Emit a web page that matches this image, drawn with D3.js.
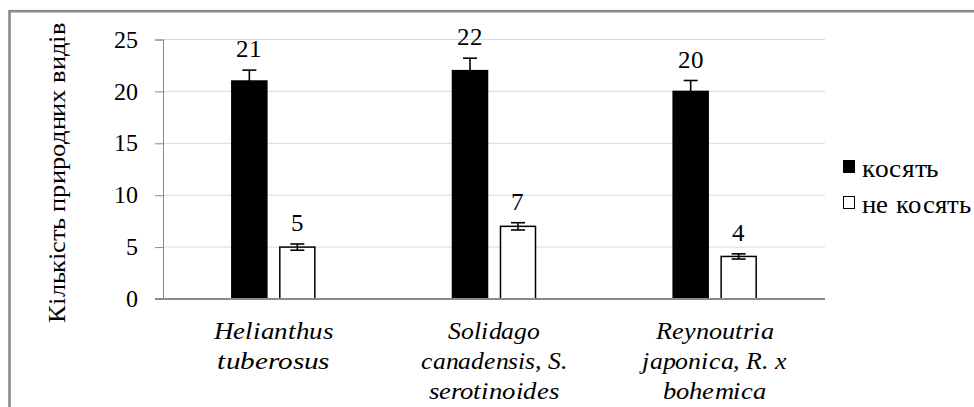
<!DOCTYPE html>
<html>
<head>
<meta charset="utf-8">
<script src="https://cdn.jsdelivr.net/npm/d3@7"></script>
<style>
  @font-face { font-family: 'ChartSerif'; font-style: normal; font-weight: 400;
    src: local('Liberation Serif'), local('LiberationSerif'), local('Tinos'), local('DejaVu Serif'), local('DejaVuSerif'); }
  @font-face { font-family: 'ChartSerif'; font-style: italic; font-weight: 400;
    src: local('Liberation Serif Italic'), local('LiberationSerif-Italic'), local('Tinos Italic'), local('DejaVu Serif Italic'), local('DejaVuSerif-Italic'); }
</style>
</head>
<body style="margin:0">
<script>
// data
const categories = [
    ['Helianthus', 'tuberosus'],
    ['Solidago', 'canadensis, S.', 'serotinoides'],
    ['Reynoutria', 'japonica, R. x', 'bohemica']
];
// widths of the category label lines in the picture (px)
const catLineWidths = [
    [119, 112],
    [92, 146, 130],
    [118, 145, 104]
];
const seriesNames = ['косять', 'не косять'];
const mowed = [21, 22, 20];
const notMowed = [5, 7, 4.1];
const mowedErr = [1.05, 1.2, 1.05];
const notMowedErr = [0.3, 0.35, 0.25];
const yTicks = [0, 5, 10, 15, 20, 25];
const yTitle = 'Кількість природних видів';

const FONT = 'ChartSerif, "Liberation Serif", "Times New Roman", Tinos, "DejaVu Serif", serif';

const W = 974, H = 407;
const margin = { top: 39.5, left: 163, right: 149, bottom: 108 };
const width = W - margin.left - margin.right;
const height = H - margin.top - margin.bottom;

const svg = d3.select('body')
    .append('svg')
    .attr('width', W)
    .attr('height', H)
    .style('font-family', FONT);

// outer frame
svg.append('rect')
    .attr('x', 9.5)
    .attr('y', 11.2)
    .attr('width', 1000)
    .attr('height', 500)
    .attr('fill', 'none')
    .attr('stroke', '#8a8a8a')
    .attr('stroke-width', 2.6);

const g = svg.append('g')
    .attr('transform', `translate(${margin.left},${margin.top})`);

const x0 = d3.scaleBand()
    .domain(d3.range(categories.length))
    .range([0, width]);

const x1 = d3.scaleBand()
    .domain(seriesNames)
    .range([x0.bandwidth() / 2 - 41.5, x0.bandwidth() / 2 + 41.5])
    .paddingInner(0.27);

const y = d3.scaleLinear()
    .domain([0, 25])
    .range([height, 0]);

// gridlines
g.append('g')
    .selectAll('line')
    .data(yTicks.slice(1))
    .enter().append('line')
    .attr('x1', 0)
    .attr('x2', width)
    .attr('y1', d => y(d))
    .attr('y2', d => y(d))
    .attr('stroke', '#d9d9d9')
    .attr('stroke-width', 1);

// y axis
const yAxis = g.append('g')
    .call(d3.axisLeft(y).tickValues(yTicks).tickSize(8).tickPadding(17));
yAxis.select('.domain').attr('stroke', '#8a8a8a');
yAxis.selectAll('.tick line').attr('stroke', '#8a8a8a');
yAxis.selectAll('.tick text')
    .style('font-family', FONT)
    .style('font-size', '24px')
    .attr('fill', '#000');

const rows = categories.map((c, i) => [
    { s: seriesNames[0], i, v: mowed[i], e: mowedErr[i] },
    { s: seriesNames[1], i, v: notMowed[i], e: notMowedErr[i] }
]);

const groups = g.selectAll('.cat')
    .data(rows)
    .enter().append('g')
    .attr('class', 'cat')
    .attr('transform', (d, i) => `translate(${x0(i)},0)`);

groups.selectAll('rect')
    .data(d => d)
    .enter().append('rect')
    .attr('x', d => x1(d.s))
    .attr('y', d => y(d.v))
    .attr('width', x1.bandwidth())
    .attr('height', d => height - y(d.v))
    .attr('fill', d => d.s === seriesNames[0] ? '#000' : '#fff')
    .attr('stroke', '#000')
    .attr('stroke-width', 1.5);

// error bars
const err = groups.selectAll('.err')
    .data(d => d)
    .enter().append('g')
    .attr('class', 'err')
    .attr('stroke', '#000')
    .attr('stroke-width', 1.6);
err.append('line')
    .attr('x1', d => x1(d.s) + x1.bandwidth() / 2)
    .attr('x2', d => x1(d.s) + x1.bandwidth() / 2)
    .attr('y1', d => y(d.v - d.e))
    .attr('y2', d => y(d.v + d.e));
err.append('line')
    .attr('x1', d => x1(d.s) + x1.bandwidth() / 2 - 7)
    .attr('x2', d => x1(d.s) + x1.bandwidth() / 2 + 7)
    .attr('y1', d => y(d.v + d.e))
    .attr('y2', d => y(d.v + d.e));
err.filter(d => d.s !== seriesNames[0]).append('line')
    .attr('x1', d => x1(d.s) + x1.bandwidth() / 2 - 7)
    .attr('x2', d => x1(d.s) + x1.bandwidth() / 2 + 7)
    .attr('y1', d => y(d.v - d.e))
    .attr('y2', d => y(d.v - d.e));

// value labels
groups.selectAll('.val')
    .data(d => d)
    .enter().append('text')
    .attr('class', 'val')
    .attr('x', d => x1(d.s) + x1.bandwidth() / 2)
    .attr('y', d => y(d.v + d.e) - 13)
    .attr('text-anchor', 'middle')
    .style('font-family', FONT)
    .style('font-size', '25px')
    .text(d => Math.round(d.v));

// baseline
g.append('line')
    .attr('x1', -8)
    .attr('x2', width)
    .attr('y1', height)
    .attr('y2', height)
    .attr('stroke', '#8a8a8a')
    .attr('stroke-width', 2);

// category labels, one text per line
categories.forEach((lines, i) => {
    g.selectAll(null)
        .data(lines)
        .enter().append('text')
        .attr('x', x0(i) + x0.bandwidth() / 2)
        .attr('y', (d, j) => height + 40 + j * 30)
        .attr('text-anchor', 'middle')
        .attr('textLength', (d, j) => catLineWidths[i][j])
        .attr('lengthAdjust', 'spacingAndGlyphs')
        .style('font-family', FONT)
        .style('font-style', 'italic')
        .style('font-size', '24px')
        .text(d => d);
});

// y title
svg.append('text')
    .attr('transform', 'translate(65,172.5) rotate(-90)')
    .attr('text-anchor', 'middle')
    .attr('textLength', 300)
    .attr('lengthAdjust', 'spacingAndGlyphs')
    .style('font-family', FONT)
    .style('font-size', '25px')
    .text(yTitle);

// legend
const legendWidths = [77, 109];
const legend = svg.append('g')
    .attr('transform', 'translate(843,160)');
const item = legend.selectAll('g')
    .data(seriesNames)
    .enter().append('g')
    .attr('transform', (d, i) => `translate(0,${i * 36})`);
item.append('rect')
    .attr('x', 0.5)
    .attr('y', 0.5)
    .attr('width', 11)
    .attr('height', 12)
    .attr('fill', (d, i) => i === 0 ? '#000' : '#fff')
    .attr('stroke', '#000')
    .attr('stroke-width', 1);
item.append('text')
    .attr('x', 19)
    .attr('y', 17)
    .attr('textLength', (d, i) => legendWidths[i])
    .attr('lengthAdjust', 'spacingAndGlyphs')
    .style('font-family', FONT)
    .style('font-size', '26px')
    .text(d => d);
</script>
</body>
</html>
